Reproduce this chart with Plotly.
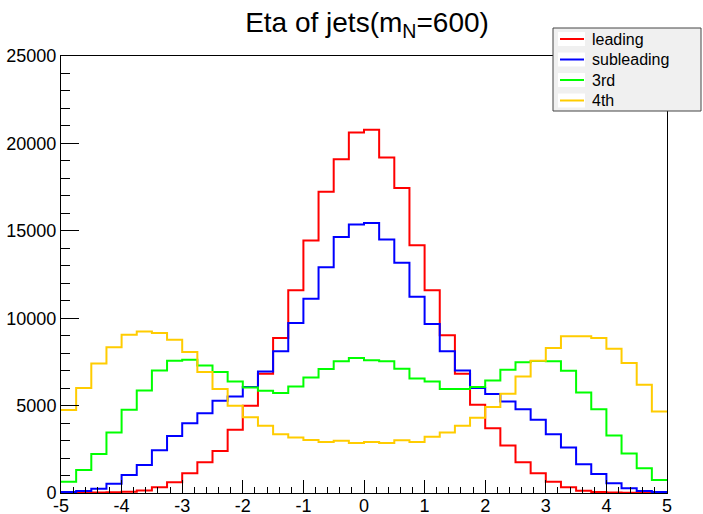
import numpy as np
import plotly.graph_objects as go

# ---- data (40 bins from -5 to 5) ----
x_min, x_max, n_bins = -5.0, 5.0, 40
leading = [10, 20, 30, 50, 70, 150, 325, 612, 1128, 1758,
           2408, 3612, 4989, 6823, 8870, 11600, 14450, 17240, 19094, 20624,
           20776, 19190, 17450, 14180, 11600, 9020, 6823, 5046, 3708, 2714,
           1758, 1128, 650, 325, 134, 60, 30, 20, 10, 5]
subleading = [60, 110, 248, 535, 1032, 1605, 2446, 3268, 3995, 4568,
              5275, 5524, 6059, 6957, 8104, 9730, 11106, 12920, 14640, 15367,
              15443, 14507, 13170, 11220, 9672, 8104, 7015, 6000, 5657, 5237,
              4797, 4186, 3364, 2599, 1644, 1089, 554, 268, 115, 60]
third = [650, 1319, 2236, 3459, 4759, 5868, 7015, 7569, 7626, 7301,
         6919, 6383, 6040, 5849, 5715, 6097, 6614, 7091, 7531, 7722,
         7588, 7531, 7110, 6557, 6383, 5944, 5944, 6059, 6441, 7053,
         7474, 7550, 7531, 6995, 5753, 4797, 3287, 2255, 1414, 745]
fourth = [4742, 6000, 7415, 8333, 9060, 9232, 9155, 8773, 8066, 6919,
          5944, 4989, 4339, 3842, 3364, 3173, 3039, 2924, 2982, 2867,
          2924, 2867, 3020, 2924, 3211, 3459, 3842, 4300, 4914, 5677,
          6670, 7569, 8295, 8964, 8964, 8868, 8257, 7435, 6193, 4663]
series_names = ["leading", "subleading", "3rd", "4th"]
series_colors = ["#ff0000", "#0000ff", "#00ff00", "#ffcc00"]
x_tick_vals = [-5, -4, -3, -2, -1, 0, 1, 2, 3, 4, 5]
x_tick_text = ["-5", "-4", "-3", "-2", "-1", "0", "1", "2", "3", "4", "5"]
y_tick_vals = [0, 5000, 10000, 15000, 20000, 25000]
y_tick_text = ["0", "5000", "10000", "15000", "20000", "25000"]

edges = np.linspace(x_min, x_max, n_bins + 1)
FONT = "Liberation Sans, Arial, Helvetica, sans-serif"

fig = go.Figure()
for name, vals, col in zip(series_names, [leading, subleading, third, fourth], series_colors):
    fig.add_trace(go.Scatter(
        x=edges, y=list(vals) + [vals[-1]], mode="lines",
        line=dict(color=col, width=2, shape="hv"), name=name, showlegend=False))

W, H = 703, 514
# plot area in pixels
L, R, T, B = 61, 667, 56, 493
def px(xp): return (xp - L) / (R - L)
def py(yp): return (B - yp) / (B - T)

shapes = []
annotations = []
# legend box
shapes.append(dict(type="rect", xref="paper", yref="paper", layer="above",
                   x0=px(553), x1=px(701), y0=py(111), y1=py(28),
                   fillcolor="#f0f0f0", line=dict(color="#444444", width=1)))
centers = [39, 59.5, 80, 100.5]
for name, col, c in zip(series_names, series_colors, centers):
    shapes.append(dict(type="rect", xref="paper", yref="paper", layer="above",
                       x0=px(558), x1=px(585), y0=py(c + 7), y1=py(c - 7),
                       fillcolor="white", line=dict(width=0)))
    shapes.append(dict(type="line", xref="paper", yref="paper", layer="above",
                       x0=px(560), x1=px(584), y0=py(c), y1=py(c),
                       line=dict(color=col, width=2)))
    annotations.append(dict(xref="paper", yref="paper", x=px(590), y=py(c),
                            text=name, showarrow=False, xanchor="left", yanchor="middle",
                            font=dict(family=FONT, size=16, color="black")))

fig.update_layout(
    width=W, height=H,
    margin=dict(l=L, r=W - R, t=T, b=H - B, pad=0, autoexpand=False),
    paper_bgcolor="white", plot_bgcolor="white",
    font=dict(family=FONT, color="black"),
    title=dict(text="Eta of jets(m<sub>N</sub>=600)", x=367 / W, xanchor="center",
               y=1 - 22 / H, yanchor="middle", font=dict(family=FONT, size=28, color="black")),
    shapes=shapes, annotations=annotations,
    xaxis=dict(range=[x_min, x_max], showgrid=False, zeroline=False, automargin=False,
               showline=True, linecolor="black", linewidth=1, mirror=True,
               ticks="inside", ticklen=13, tickcolor="black", tickwidth=1,
               tickmode="array", tickvals=x_tick_vals, ticktext=x_tick_text,
               tickfont=dict(family=FONT, size=18, color="black"), ticklabelstandoff=-4,
               minor=dict(ticks="inside", ticklen=6, dtick=0.2, tickcolor="black", tickwidth=1, showgrid=False)),
    yaxis=dict(range=[0, 25000], showgrid=False, zeroline=False, automargin=False,
               showline=True, linecolor="black", linewidth=1, mirror=True,
               ticks="inside", ticklen=18, tickcolor="black", tickwidth=1,
               tickmode="array", tickvals=y_tick_vals, ticktext=y_tick_text,
               tickfont=dict(family=FONT, size=18, color="black"),
               minor=dict(ticks="inside", ticklen=9, dtick=1000, tickcolor="black", tickwidth=1, showgrid=False)),
)

fig.write_html("out.html", config={"displayModeBar": False},
               post_script="document.body.style.margin='0';document.body.style.overflow='hidden';")
